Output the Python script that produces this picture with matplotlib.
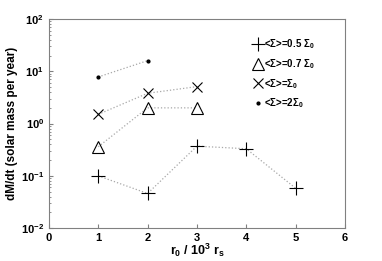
import matplotlib
matplotlib.use('Agg')
import matplotlib.pyplot as plt

plt.rcParams['font.family'] = 'Liberation Sans'
plt.rcParams['font.weight'] = 'bold'
plt.rcParams['mathtext.fontset'] = 'custom'
plt.rcParams['mathtext.rm'] = 'Liberation Sans:bold'
plt.rcParams['mathtext.it'] = 'Liberation Sans:bold'
plt.rcParams['mathtext.bf'] = 'Liberation Sans:bold'
plt.rcParams['mathtext.default'] = 'bf'

# data
x_plus = [1, 2, 3, 4, 5]
y_plus = [0.1, 0.046, 0.37, 0.33, 0.058]
x_tri = [1, 2, 3]
y_tri = [0.36, 2.0, 2.0]
x_cross = [1, 2, 3]
y_cross = [1.5, 3.8, 5.1]
x_dot = [1, 2]
y_dot = [7.8, 16]
labels = [r'<$\Sigma$>=0.5 $\Sigma_0$', r'<$\Sigma$>=0.7 $\Sigma_0$',
          r'<$\Sigma$>=$\Sigma_0$', r'<$\Sigma$>=2$\Sigma_0$']

fig = plt.figure(figsize=(3.82, 2.61), dpi=100)
ax = fig.add_axes([0.128, 0.126, 0.775, 0.801])

lc = '#a8a8a8'
ax.plot(x_plus, y_plus, ls=':', color=lc, lw=0.9)
ax.plot(x_tri, y_tri, ls=':', color=lc, lw=0.9)
ax.plot(x_cross, y_cross, ls=':', color=lc, lw=0.9)
ax.plot(x_dot, y_dot, ls=':', color=lc, lw=0.9)
h1, = ax.plot(x_plus, y_plus, '+', color='k', ms=10, mew=0.8, ls='none')
h2, = ax.plot(x_tri, y_tri, '^', mfc='none', mec='k', ms=9, mew=0.8, ls='none')
h3, = ax.plot(x_cross, y_cross, 'x', color='k', ms=7, mew=0.8, ls='none')
h4, = ax.plot(x_dot, y_dot, '.', color='k', ms=4, ls='none')

ax.set_yscale('log')
ax.set_xlim(0, 6)
ax.set_ylim(1e-2, 1e2)
ax.set_xticks([0, 1, 2, 3, 4, 5, 6])
ax.tick_params(which='both', direction='in', labelsize=8, color='#808080')
ax.tick_params(which='major', length=3)
ax.tick_params(which='minor', length=1.5)
for lab in ax.get_xticklabels() + ax.get_yticklabels():
    lab.set_fontweight('bold')
for s in ax.spines.values():
    s.set_color('#808080')
    s.set_linewidth(0.8)

ax.set_xlabel(r'r$_0$ / 10$^3$ r$_s$', fontsize=9, fontweight='bold', labelpad=-1)
ax.set_ylabel('dM/dt (solar mass per year)', fontsize=8.5, fontweight='bold', labelpad=2)

ax.legend([h1, h2, h3, h4], labels, loc='upper left', frameon=False,
          prop={'size': 7, 'weight': 'bold'}, handlelength=0.8, handletextpad=0.2,
          labelspacing=0.6, bbox_to_anchor=(0.68, 0.93), borderaxespad=0)

fig.savefig('out.png', dpi=100)
